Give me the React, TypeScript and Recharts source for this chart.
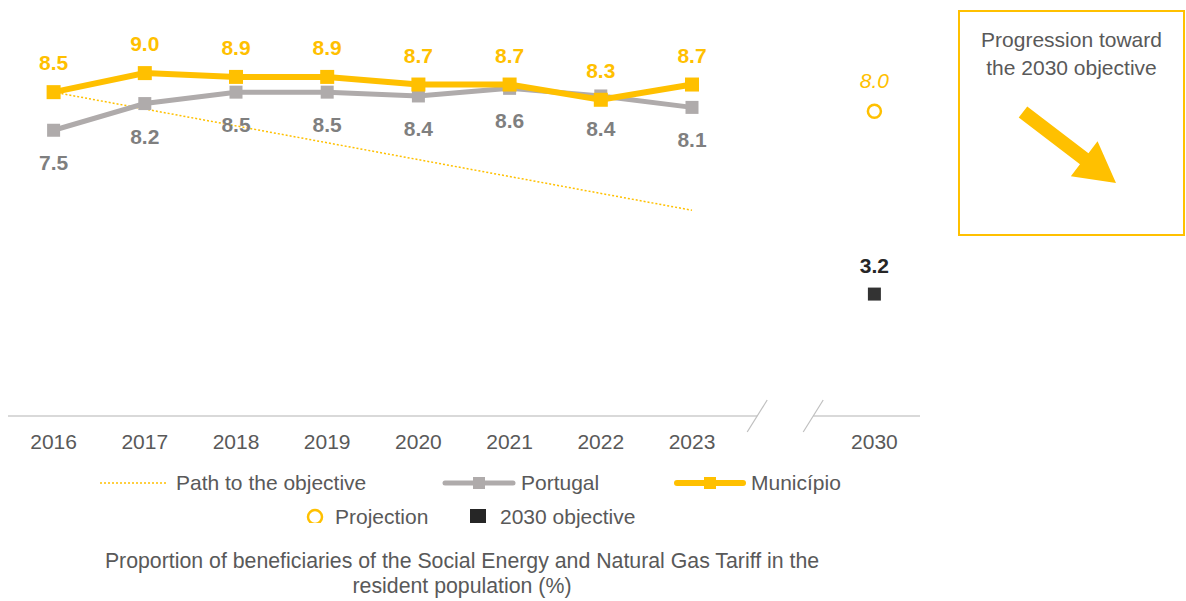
import { ComposedChart, Line, XAxis, YAxis, LabelList } from "recharts";

const years = ["2016", "2017", "2018", "2019", "2020", "2021", "2022", "2023", " ", "2030"];
const municipio = [8.5, 9.0, 8.9, 8.9, 8.7, 8.7, 8.3, 8.7, null, null];
const portugal = [7.5, 8.2, 8.5, 8.5, 8.4, 8.6, 8.4, 8.1, null, null];
const pathToObjective = [8.5, null, null, null, null, null, null, 5.4, null, null];
const projection = [null, null, null, null, null, null, null, null, null, 8.0];
const objective = [null, null, null, null, null, null, null, null, null, 3.2];

const data = years.map((year, i) => ({
  year,
  municipio: municipio[i],
  portugal: portugal[i],
  path: pathToObjective[i],
  projection: projection[i],
  objective: objective[i],
}));

const GOLD = "#FFC000";
const GREY_LINE = "#AFABAB";
const GREY_LABEL = "#7F7F7F";
const TEXT = "#595959";
const DARK = "#333333";
const FONT = "'Liberation Sans', Arial, sans-serif";

const W = 1170;
const H = 470;
const margin = { top: 27, right: 258, bottom: 22, left: 0 };
const xAxisHeight = 40;
const plotW = W - margin.left - margin.right;
const plotBottom = H - margin.bottom - xAxisHeight;
const band = plotW / years.length;
const gapCenter = margin.left + band * 8.5;

const square = (size: number, fill: string) => (props: any) => {
  const { cx, cy, key } = props;
  if (cx == null || cy == null) return <g key={key} />;
  return <rect key={key} x={cx - size / 2} y={cy - size / 2} width={size} height={size} fill={fill} />;
};

const label = (dy: number, color: string, opts: { bold?: boolean; italic?: boolean } = {}) => (p: any) => {
  if (p.value == null) return null;
  return (
    <text
      x={p.x}
      y={p.y + dy}
      textAnchor="middle"
      fill={color}
      fontSize={21}
      fontWeight={opts.bold ? 700 : 400}
      fontStyle={opts.italic ? "italic" : "normal"}
      fontFamily={FONT}
    >
      {Number(p.value).toFixed(1)}
    </text>
  );
};

const YearTick = (props: any) => {
  const { x, y, payload } = props;
  return (
    <text x={x} y={y + 25} textAnchor="middle" fill={TEXT} fontSize={21} fontFamily={FONT}>
      {payload.value}
    </text>
  );
};

function Arrow() {
  const tail = [1015, 104];
  const tip = [1108, 175];
  const dx = tip[0] - tail[0];
  const dy = tip[1] - tail[1];
  const len = Math.hypot(dx, dy);
  const ux = dx / len, uy = dy / len;
  const nx = -uy, ny = ux;
  const shaft = 7, head = 22, headLen = 40;
  const bx = tip[0] - ux * headLen, by = tip[1] - uy * headLen;
  const pts = [
    [tail[0] + nx * shaft, tail[1] + ny * shaft],
    [bx + nx * shaft, by + ny * shaft],
    [bx + nx * head, by + ny * head],
    tip,
    [bx - nx * head, by - ny * head],
    [bx - nx * shaft, by - ny * shaft],
    [tail[0] - nx * shaft, tail[1] - ny * shaft],
  ];
  return <polygon points={pts.map((p) => p.join(",")).join(" ")} fill={GOLD} />;
}

const legendText: React.CSSProperties = {
  position: "absolute",
  fontSize: 21,
  color: TEXT,
  lineHeight: "24px",
  whiteSpace: "nowrap",
};

export default function App() {
  return (
    <div style={{ position: "relative", width: 1178, height: 593, fontFamily: FONT }}>
      {/* let the root reach the window's right and bottom edges so the box and title are not clipped */}
      <style>{`body { margin: 8px 0 0 8px; }`}</style>
      <ComposedChart width={W} height={H} data={data} margin={margin}>
        <XAxis
          dataKey="year"
          interval={0}
          axisLine={false}
          tickLine={false}
          height={xAxisHeight}
          padding={{ left: band / 2, right: band / 2 }}
          tick={<YearTick />}
        />
        <YAxis hide domain={[0, 10]} />
        <Line
          dataKey="path"
          stroke={GOLD}
          strokeWidth={1.5}
          strokeDasharray="2 2"
          dot={false}
          connectNulls
          isAnimationActive={false}
        />
        <Line
          dataKey="portugal"
          stroke={GREY_LINE}
          strokeWidth={5}
          dot={square(13, GREY_LINE)}
          activeDot={false}
          isAnimationActive={false}
        >
          <LabelList dataKey="portugal" content={label(40, GREY_LABEL, { bold: true })} />
        </Line>
        <Line
          dataKey="municipio"
          stroke={GOLD}
          strokeWidth={6}
          dot={square(14, GOLD)}
          activeDot={false}
          isAnimationActive={false}
        >
          <LabelList dataKey="municipio" content={label(-22, GOLD, { bold: true })} />
        </Line>
        <Line
          dataKey="projection"
          stroke="none"
          dot={{ r: 6.5, fill: "#fff", stroke: GOLD, strokeWidth: 2.5 }}
          activeDot={false}
          isAnimationActive={false}
        >
          <LabelList dataKey="projection" content={label(-23, GOLD, { italic: true })} />
        </Line>
        <Line
          dataKey="objective"
          stroke="none"
          dot={square(13, DARK)}
          activeDot={false}
          isAnimationActive={false}
        >
          <LabelList dataKey="objective" content={label(-21, "#262626", { bold: true })} />
        </Line>
      </ComposedChart>

      {/* axis line with break marks, plus the arrow inside the box */}
      <svg width={1178} height={H} style={{ position: "absolute", left: 0, top: 0, pointerEvents: "none" }}>
        <line x1={margin.left} x2={gapCenter - 26} y1={plotBottom} y2={plotBottom} stroke="#D9D9D9" strokeWidth={2} />
        <line x1={gapCenter + 30} x2={margin.left + plotW} y1={plotBottom} y2={plotBottom} stroke="#D9D9D9" strokeWidth={2} />
        <line x1={gapCenter - 36} y1={plotBottom + 16} x2={gapCenter - 16} y2={plotBottom - 16} stroke="#BFBFBF" strokeWidth={1.2} />
        <line x1={gapCenter + 20} y1={plotBottom + 16} x2={gapCenter + 40} y2={plotBottom - 16} stroke="#BFBFBF" strokeWidth={1.2} />
        <Arrow />
      </svg>

      {/* objective box */}
      <div
        style={{
          position: "absolute",
          left: 950,
          top: 2,
          width: 227,
          height: 226,
          border: `2px solid ${GOLD}`,
          textAlign: "center",
          color: TEXT,
          fontSize: 21,
          lineHeight: "28px",
          paddingTop: 14,
          boxSizing: "border-box",
          pointerEvents: "none",
        }}
      >
        Progression toward
        <br />
        the 2030 objective
      </div>

      {/* legend */}
      <svg width={W} height={60} style={{ position: "absolute", left: 0, top: 455 }}>
        <line x1={92} x2={160} y1={20} y2={20} stroke={GOLD} strokeWidth={1.5} strokeDasharray="2 2" />
        <line x1={437} x2={505} y1={20} y2={20} stroke={GREY_LINE} strokeWidth={5} strokeLinecap="round" />
        <rect x={465} y={14} width={12} height={12} fill={GREY_LINE} />
        <line x1={669} x2={735} y1={20} y2={20} stroke={GOLD} strokeWidth={6} strokeLinecap="round" />
        <rect x={696} y={14} width={12} height={12} fill={GOLD} />
        <circle cx={307} cy={54} r={7} fill="#fff" stroke={GOLD} strokeWidth={2.5} />
        <rect x={462} y={46} width={16} height={16} fill="#262626" />
      </svg>
      <span style={{ ...legendText, left: 168, top: 463 }}>Path to the objective</span>
      <span style={{ ...legendText, left: 513, top: 463 }}>Portugal</span>
      <span style={{ ...legendText, left: 743, top: 463 }}>Município</span>
      <span style={{ ...legendText, left: 327, top: 497 }}>Projection</span>
      <span style={{ ...legendText, left: 492, top: 497 }}>2030 objective</span>

      <div
        style={{
          position: "absolute",
          left: 54,
          top: 541,
          width: 800,
          textAlign: "center",
          fontSize: 21.3,
          lineHeight: "25px",
          color: TEXT,
        }}
      >
        Proportion of beneficiaries of the Social Energy and Natural Gas Tariff in the
        <br />
        resident population (%)
      </div>
    </div>
  );
}
